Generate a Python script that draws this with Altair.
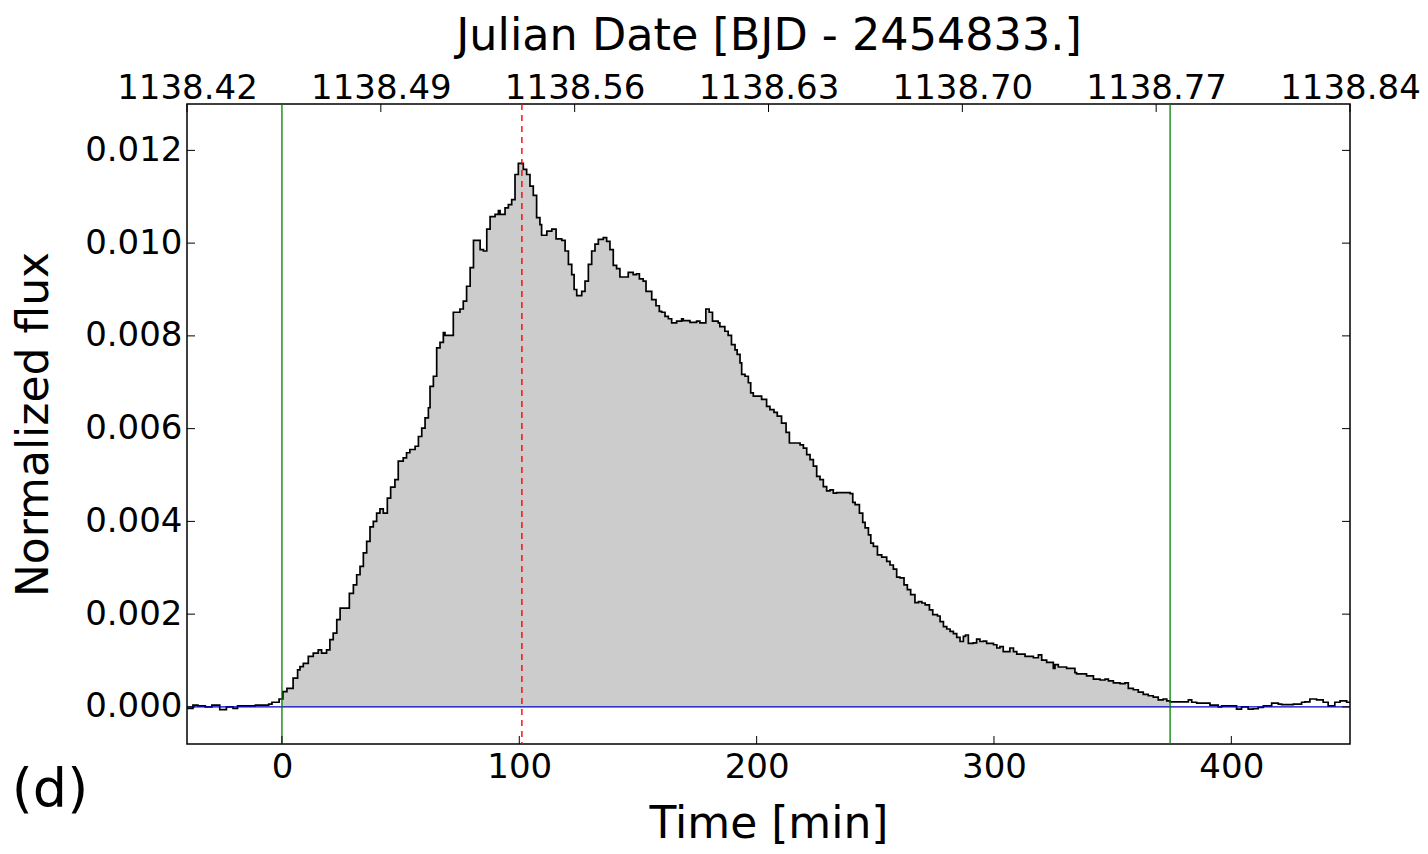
import altair as alt
import pandas as pd

# ---- light curve (time in minutes from flare start, normalized flux) ----
time_min = [
    -40.0, -37.5, -35.4, -32.3, -29.5, -26.2, -23.4, -20.6, -18.7, -11.2, -5.6, -4.2, -1.2,
    0.4, 2.1, 4.7, 6.6, 7.6, 9.0, 11.1, 13.2, 15.3, 16.7, 18.8, 20.2, 21.6, 23.1, 24.5,
    28.4, 30.1, 31.5, 32.9, 34.3, 35.7, 37.1, 38.5, 39.9, 41.3, 42.7, 44.4, 45.8, 47.6,
    49.0, 51.1, 52.5, 53.9, 56.1, 57.5, 58.9, 60.3, 61.7,
    62.4, 63.8, 65.2, 66.6, 68.0, 68.7, 72.2, 75.0, 76.4, 77.8, 79.3, 80.7, 83.5, 84.9,
    86.3, 87.7, 89.8, 91.2, 91.9, 94.0, 95.4, 96.8, 98.2, 99.6, 101.7, 103.1, 104.5,
    105.9, 107.3, 108.7, 109.4, 111.6, 113.7, 115.5, 117.9, 119.3, 120.7, 122.1, 123.1,
    124.2, 126.3, 127.7, 129.1, 130.5, 131.9, 133.3, 135.4, 136.8, 138.2, 139.6, 141.0,
    142.4, 145.9, 148.0, 149.4, 150.6, 152.2, 153.4, 155.8, 157.6, 159.0, 160.0, 161.4,
    162.8, 164.2, 166.3, 168.4, 169.1, 171.9, 174.7, 176.1, 178.6, 180.0, 181.4, 183.8,
    184.5, 186.6, 188.0, 189.4, 190.9, 191.8, 193.0, 193.7, 195.1, 196.5, 197.5, 198.6,
    202.1, 204.2, 205.6, 207.3, 208.7, 210.5, 212.4, 213.8,
    218.3, 219.7, 221.1, 222.5, 223.9, 225.3, 226.7, 228.1, 229.5, 230.9, 232.3, 233.7,
    239.4, 240.5, 241.5, 243.3, 244.7, 245.7, 247.1, 248.1, 249.2, 250.9, 252.7, 254.8,
    256.2, 257.6, 259.0, 260.4, 262.1, 263.5, 264.9, 266.7, 268.2, 269.6, 271.0, 272.8,
    274.2, 276.2, 277.3, 278.7, 280.1, 281.5, 282.9, 284.3, 285.7, 287.1, 288.0, 289.2,
    291.3, 292.7, 294.1, 295.5, 296.9, 299.8, 301.2,
    302.5, 303.9, 306.7, 308.2, 309.6, 313.1, 316.6, 318.7, 320.1, 322.2, 325.0, 325.7,
    327.1, 330.6, 334.1, 334.8, 339.0, 341.9, 344.7, 346.8, 348.2, 350.3, 353.1, 355.2,
    356.6, 358.7, 360.8, 362.9, 365.0, 367.1, 369.2, 371.3, 372.8, 374.2,
    376.9, 381.9, 383.3, 385.4, 391.0, 394.5, 395.9, 402.2, 404.3, 407.1, 409.2, 411.3,
    413.5, 417.0, 419.8, 421.2, 426.1, 429.6, 431.0, 433.1, 435.9, 438.7, 440.8, 443.6,
    445.8, 448.6,
]
flux = [
    -0.00003, 0.00004, 0.00002, 0.0, 0.00004, -0.00006, 0.0, -0.00003, 0.00002, 0.00004, 0.00006, 0.0001, 0.00017,
    0.00033, 0.0004, 0.00062, 0.0008, 0.00087, 0.00094, 0.00109, 0.00116, 0.00123, 0.00116, 0.00123, 0.00145, 0.00159, 0.00188, 0.00213,
    0.00245, 0.00263, 0.00285, 0.00303, 0.00332, 0.00357, 0.00388, 0.004, 0.00418, 0.00427, 0.00418, 0.0045, 0.00474, 0.0049,
    0.0053, 0.00537, 0.00548, 0.00555, 0.00562, 0.00583, 0.00601, 0.00623, 0.00645,
    0.00691, 0.00713, 0.00774, 0.00786, 0.00807, 0.00801, 0.00851, 0.00858, 0.00875, 0.00907, 0.00947, 0.01006, 0.00986, 0.00983,
    0.0103, 0.01057, 0.01062, 0.0107, 0.01062, 0.01076, 0.01083, 0.01094, 0.01148, 0.01172, 0.01159, 0.01148, 0.01123,
    0.01103, 0.01055, 0.0104, 0.01017, 0.01026, 0.0103, 0.01009, 0.01006, 0.00983, 0.00954, 0.00932, 0.009,
    0.00887, 0.00896, 0.00918, 0.00954, 0.00983, 0.00998, 0.01008, 0.01012, 0.01004, 0.00986, 0.00952, 0.00945,
    0.00927, 0.00937, 0.00932, 0.00934, 0.00923, 0.00918, 0.00896, 0.00878, 0.00865, 0.00853, 0.00851, 0.00842,
    0.00837, 0.00828, 0.00832, 0.00837, 0.00833, 0.00829, 0.00832, 0.00828, 0.00858, 0.00851, 0.00832, 0.00828,
    0.0082, 0.0081, 0.00801, 0.00781, 0.0077, 0.0076, 0.00742, 0.00717, 0.00713, 0.00699, 0.00677, 0.0067,
    0.00663, 0.00648, 0.00641, 0.00635, 0.00627, 0.00612, 0.00592, 0.00569,
    0.00565, 0.00558, 0.00544, 0.00533, 0.00519, 0.00497, 0.0049, 0.00475, 0.00466, 0.00468, 0.00461, 0.00462,
    0.0046, 0.00441, 0.00436, 0.00418, 0.00398, 0.00386, 0.00371, 0.00353, 0.00346, 0.00328, 0.00323, 0.00314,
    0.00306, 0.00297, 0.0028, 0.00278, 0.00263, 0.00253, 0.00242, 0.00225, 0.00227, 0.00224, 0.0022, 0.00209,
    0.00199, 0.00196, 0.00184, 0.00173, 0.00168, 0.00163, 0.00158, 0.0015, 0.00141, 0.00152, 0.00155, 0.00137,
    0.00138, 0.00146, 0.00141, 0.00142, 0.00137, 0.00134, 0.00127,
    0.0013, 0.00119, 0.00127, 0.00119, 0.00114, 0.00109, 0.00106, 0.00112, 0.00101, 0.00096, 0.00083, 0.00091,
    0.00086, 0.00083, 0.00074, 0.00071, 0.00067, 0.0006, 0.00058, 0.0006, 0.00056, 0.00052, 0.0005, 0.00052,
    0.0004, 0.00037, 0.00032, 0.00027, 0.00024, 0.00021, 0.00015, 0.00017, 0.00013, 0.00011,
    0.00011, 0.00015, 0.0001, 0.00008, 0.00004, 0.0, 0.00002, -0.00005, 0.0, -0.00005, -0.00004, -0.00001,
    0.00002, 0.00008, 0.00006, 0.00005, 0.00006, 0.0001, 0.00011, 0.00017, 0.00015, 0.0001, 0.00002, 0.0001,
    0.00013, 0.0001,
]

flare_start = 0.0
flare_end = 374.2
peak_time = 101.1
x_domain = [-40, 450]
y_domain = [-0.0008, 0.013]

bottom_tick_values = [0, 100, 200, 300, 400]
y_tick_values = [0.0, 0.002, 0.004, 0.006, 0.008, 0.010, 0.012]
top_tick_times = [-40, 41.67, 123.33, 205, 286.67, 368.33, 450]
top_tick_labels = ["1138.42", "1138.49", "1138.56", "1138.63", "1138.70", "1138.77", "1138.84"]
panel_label = "(d)"

W, H = 1163, 640
FONT = "DejaVu Sans"

# ---- tables ----
line_df = pd.DataFrame({"t": time_min + [x_domain[1]], "f": flux + [flux[-1]]})

area_t, area_f = [], []
prev = flux[0]
for t, f in zip(time_min, flux):
    if t < flare_start:
        prev = f
        continue
    if t > flare_end:
        break
    if not area_t:
        area_t.append(flare_start)
        area_f.append(prev)
    area_t.append(t)
    area_f.append(f)
    prev = f
area_t.append(flare_end)
area_f.append(prev)
area_df = pd.DataFrame({"t": area_t, "f": area_f})

xs = alt.Scale(domain=x_domain, nice=False, zero=False)
ys = alt.Scale(domain=y_domain, nice=False, zero=False)

top_vals_js = "[" + ",".join(str(v) for v in top_tick_times) + "]"
top_labs_js = "[" + ",".join("'" + s + "'" for s in top_tick_labels) + "]"
top_label_expr = f"{top_labs_js}[indexof({top_vals_js}, datum.value)]"

area = alt.Chart(area_df).mark_area(
    interpolate="step-after", color="#cccccc", opacity=1
).encode(
    x=alt.X("t:Q", scale=xs, axis=alt.Axis(
        orient="bottom", values=bottom_tick_values, title="Time [min]",
        labelPadding=6, titlePadding=18, format="d")),
    y=alt.Y("f:Q", scale=ys, axis=alt.Axis(
        orient="left", values=y_tick_values, format=".3f",
        title="Normalized flux", labelPadding=5, titlePadding=28)),
    y2=alt.datum(0),
)

line = alt.Chart(line_df).mark_line(
    interpolate="step-after", color="black", strokeWidth=1.7
).encode(
    x=alt.X("t:Q", scale=xs, axis=None),
    y=alt.Y("f:Q", scale=ys, axis=None),
)

zero_df = pd.DataFrame({"f": [0.0]})
zero_rule = alt.Chart(zero_df).mark_rule(color="#0000cc", strokeWidth=1.3).encode(
    y=alt.Y("f:Q", scale=ys, axis=None)
)

bounds_df = pd.DataFrame({"t": [flare_start, flare_end]})
bounds = alt.Chart(bounds_df).mark_rule(color="#008000", strokeWidth=1.3).encode(
    x=alt.X("t:Q", scale=xs, axis=None)
)

peak_df = pd.DataFrame({"t": [peak_time]})
peak = alt.Chart(peak_df).mark_rule(
    color="#ff0000", strokeWidth=1.4, strokeDash=[6, 5]
).encode(x=alt.X("t:Q", scale=xs, axis=None))

TICK = 8
top_df = pd.DataFrame({"t": top_tick_times})
top_ticks = alt.Chart(top_df).mark_rule(color="black", strokeWidth=1).encode(
    x=alt.X("t:Q", scale=xs, axis=alt.Axis(
        orient="top", values=top_tick_times, labelExpr=top_label_expr,
        title="Julian Date [BJD - 2454833.]", labelPadding=-1, titlePadding=13,
        titleFontSize=44.5)),
    y=alt.value(0), y2=alt.value(TICK),
)

bot_df = pd.DataFrame({"t": bottom_tick_values})
bot_ticks = alt.Chart(bot_df).mark_rule(color="black", strokeWidth=1).encode(
    x=alt.X("t:Q", scale=xs, axis=None),
    y=alt.value(H), y2=alt.value(H - TICK),
)

ytk_df = pd.DataFrame({"f": y_tick_values})
left_ticks = alt.Chart(ytk_df).mark_rule(color="black", strokeWidth=1).encode(
    y=alt.Y("f:Q", scale=ys, axis=None),
    x=alt.value(0), x2=alt.value(TICK),
)
right_ticks = alt.Chart(ytk_df).mark_rule(color="black", strokeWidth=1).encode(
    y=alt.Y("f:Q", scale=ys, axis=None),
    x=alt.value(W), x2=alt.value(W - TICK),
)

lab_df = pd.DataFrame({"label": [panel_label]})
panel = alt.Chart(lab_df).mark_text(
    font=FONT, fontSize=54, align="center", baseline="alphabetic", color="black"
).encode(text="label:N", x=alt.value(-137), y=alt.value(703))

chart = alt.layer(
    area, line, zero_rule, bounds, peak,
    top_ticks, bot_ticks, left_ticks, right_ticks, panel,
).resolve_axis(x="independent", y="independent").properties(
    width=W, height=H,
    autosize=alt.AutoSizeParams(type="none"),
    padding={"left": 179, "top": 96, "right": 70, "bottom": 102},
).configure_view(
    stroke="black", strokeWidth=1.5
).configure_axis(
    labelFont=FONT, titleFont=FONT, labelFontSize=34, titleFontSize=44,
    titleFontWeight="normal", labelColor="black", titleColor="black",
    ticks=False, domain=False, grid=False, labelFlush=False, labelOverlap=False,
)

chart.save("out.html", embed_options={"renderer": "svg", "actions": False})
